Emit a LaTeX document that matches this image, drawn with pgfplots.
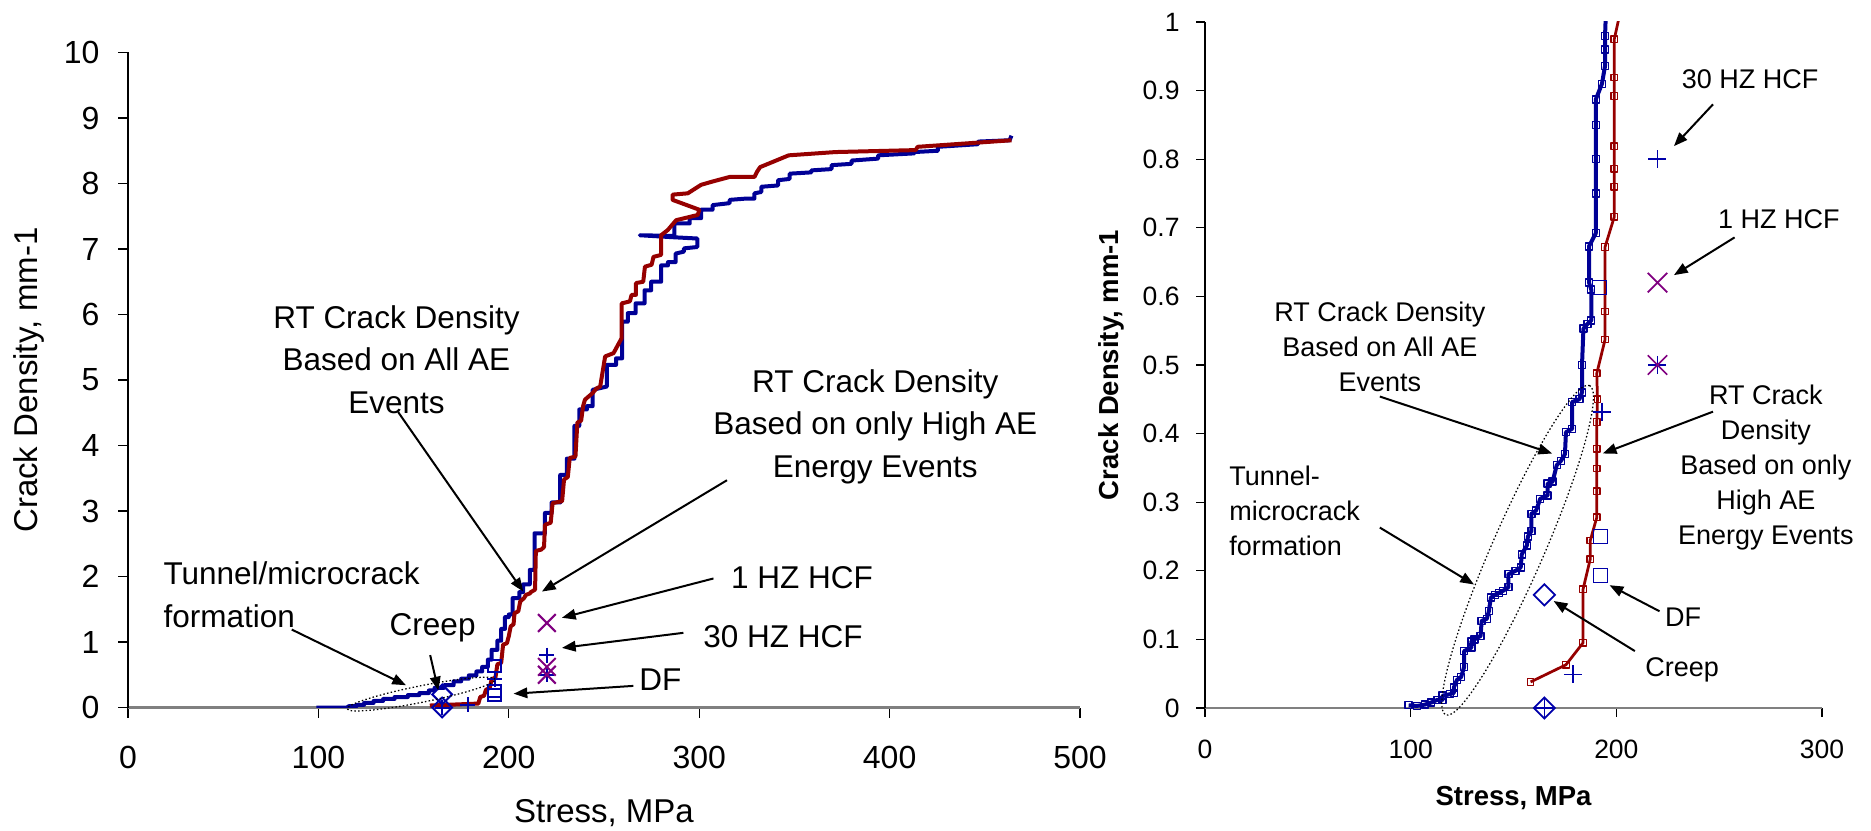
\documentclass[border=0pt]{standalone}
\usepackage{fontspec}
\setmainfont{Liberation Sans}
\usepackage{pgfplots}
\pgfplotsset{compat=1.18}
\usetikzlibrary{arrows.meta}
\definecolor{cblue}{RGB}{0,0,150}
\definecolor{cred}{RGB}{150,0,0}
\definecolor{cpurp}{RGB}{128,0,128}
\definecolor{cmark}{RGB}{0,0,170}
\definecolor{cgray}{RGB}{128,128,128}
\tikzset{ann/.style={-{Triangle[length=5.5pt,width=4.2pt]}, line width=0.8pt, black},
         dotell/.style={line width=0.5pt, dash pattern=on 0.6pt off 0.9pt}}
\begin{document}
\begin{tikzpicture}
% ---------------- LEFT ----------------
\begin{axis}[
  at={(51.2pt,49pt)}, anchor=south west, scale only axis,
  width=380.8pt, height=262pt,
  xmin=0, xmax=500, ymin=0, ymax=10,
  axis x line*=bottom, axis y line*=left,
  x axis line style={cgray, line width=0.9pt},
  y axis line style={black, line width=0.5pt},
  xtick={0,100,200,300,400,500}, ytick={0,1,2,3,4,5,6,7,8,9,10},
  tick align=outside, major tick length=4pt,
  every tick/.style={black, line width=0.5pt},
  /pgf/number format/assume math mode=true,
  ticklabel style={font=\fontsize{12.8}{14}\selectfont, inner sep=0pt},
  xticklabel style={anchor=north}, xticklabel shift=11.2pt,
  yticklabel style={anchor=east}, yticklabel shift=7.2pt,
  xlabel={Stress, MPa}, ylabel={Crack Density, mm-1},
  label style={font=\fontsize{13.2}{15}\selectfont},
  xlabel style={at={(axis description cs:0.5,-0.161)}, anchor=center},
  ylabel style={at={(axis description cs:-0.104,0.5)}, anchor=center},
  clip mode=individual,
]
\addplot[cblue, line width=1.6pt, line join=round] coordinates {
(99,0) (115,0) (116,0.02) (120,0.02) (120,0.04) (124,0.04) (124,0.07) (129,0.07) (129,0.1) (134,0.1)
(134,0.13) (140,0.13) (140,0.16) (147,0.16) (147,0.19) (153,0.19) (153,0.22) (158,0.22) (158,0.26)
(161,0.26) (161,0.3) (166,0.3) (166,0.34) (171,0.34) (171,0.4) (175,0.4) (175,0.44) (179,0.44)
(179,0.49) (183,0.49) (183,0.55) (186,0.55) (186,0.62) (189,0.62) (189,0.73) (191,0.73) (191,0.88)
(194,0.88) (194,1.02) (196,1.02) (196,1.2) (198,1.2) (198,1.38) (200,1.38) (200,1.42) (202,1.42)
(202,1.67) (205.5,1.67) (205.5,1.76) (207.5,1.76) (207.5,1.88) (211,1.88) (211,2.1) (213.5,2.1)
(213.5,2.66) (219,2.66) (219,2.97) (222.5,2.97) (222.5,3.13) (227,3.13) (227,3.55) (230.5,3.55)
(230.5,3.8) (234.5,3.8) (234.5,4.3) (237,4.3) (237,4.55) (241,4.55) (241,4.6) (244,4.6) (244,4.85)
(251.5,4.9) (251.5,5.23) (256.3,5.23) (256.3,5.33) (259.5,5.33) (259.5,5.89) (262.5,5.89)
(262.5,6.02) (266.6,6.02) (266.6,6.17) (271.3,6.17) (271.3,6.37) (274.8,6.37) (274.8,6.5) (280,6.5)
(280,6.75) (283.6,6.75) (283.6,6.8) (287.6,6.8) (287.6,6.93) (292,6.96) (292,7.01) (299,7.03)
(299,7.16) (286,7.18) (268.8,7.21) (286,7.2) (287,7.2) (287,7.39) (295,7.39) (295,7.47) (301,7.47)
(301,7.6) (307,7.6) (307,7.67) (316,7.7) (316,7.75) (324.7,7.77) (329,7.77) (329,7.85) (332.6,7.87)
(332.6,7.95) (341.4,7.97) (341.4,8.05) (347.5,8.07) (347.5,8.15) (358.9,8.17) (358.9,8.2)
(369.5,8.22) (369.5,8.28) (380,8.3) (380,8.35) (394,8.38) (394,8.43) (413,8.46) (413,8.48)
(425.4,8.5) (425.4,8.56) (446.5,8.6) (446.5,8.64) (463,8.66) (464,8.73)
};
\addplot[cred, line width=1.6pt, line join=round] coordinates {
(158.5,0.03) (184,0.06) (185,0.16) (187,0.18) (188,0.27) (190,0.3) (191,0.43) (193,0.46) (194,0.66)
(196,0.68) (197,0.96) (199,0.98) (200,1.09) (201,1.24) (202.5,1.27) (203,1.44) (205,1.47) (206,1.62)
(208,1.67) (209,1.72) (211,1.74) (211.5,1.76) (213.8,1.8) (214.2,2.39) (217,2.41) (218.5,2.45)
(219,2.79) (222,2.82) (223,3.12) (228,3.15) (229,3.48) (231,3.52) (232,3.81) (235,3.83) (236,4.35)
(238,4.38) (239,4.6) (240,4.7) (244,4.8) (246,4.87) (248,4.9) (250.6,5.36) (255,5.41) (259.3,5.64)
(259.3,6.17) (263.6,6.2) (264.5,6.3) (266.8,6.3) (266.8,6.48) (270.6,6.5) (271.5,6.73) (275,6.76)
(276,6.88) (280,6.91) (280,7.21) (283.5,7.29) (287.9,7.44) (299.3,7.52) (300,7.6) (286,7.75)
(286,7.83) (294,7.85) (301,7.98) (307,8.03) (316,8.1) (329,8.1) (330.4,8.18) (332,8.25) (347,8.43)
(371.6,8.48) (413.7,8.51) (414.7,8.56) (464,8.66)
};
% markers
\addplot[only marks, cmark, mark=square, mark size=2.8pt, mark options={rotate=45, line width=0.8pt}] coordinates {(165,0.2) (165,0)};
\addplot[only marks, cmark, mark=+, mark size=3pt, mark options={line width=0.8pt}] coordinates {(165,0) (178.5,0.04) (192.5,0.43) (220,0.8) (220,0.5)};
\addplot[only marks, cmark, mark=square, mark size=2.5pt, mark options={line width=0.8pt}] coordinates {(192.5,0.63) (192.5,0.25) (192.5,0.19)};
\addplot[only marks, cpurp, mark=x, mark size=5pt, mark options={line width=0.8pt}] coordinates {(220,1.29) (220,0.62) (220,0.5)};
% ellipse
\draw[dotell, rotate around={11.3:(axis cs:154,0.205)}] (axis cs:154,0.205) ellipse [x radius=30.2pt, y radius=3.3pt];
% annotations
\begin{scope}[every node/.style={font=\fontsize{12.6}{17}\selectfont, align=center, inner sep=0pt}]
\node at (axis cs:141,5.31) {RT Crack Density\\Based on All AE\\Events};
\node at (axis cs:392.5,4.29) {RT Crack Density\\Based on only High AE\\Energy Events};
\node at (axis cs:354,1.98) {1 HZ HCF};
\node at (axis cs:344,1.08) {30 HZ HCF};
\node at (axis cs:279.6,0.42) {DF};
\node at (axis cs:160,1.21) {Creep};
\node[anchor=west, align=left] at (axis cs:18.4,1.72) {Tunnel/microcrack\\formation};
\end{scope}
\draw[ann] (axis cs:141.9,4.51) -- (axis cs:207.6,1.77);
\draw[ann] (axis cs:314.6,3.47) -- (axis cs:217.4,1.77);
\draw[ann] (axis cs:307.5,1.97) -- (axis cs:227.9,1.37);
\draw[ann] (axis cs:291.7,1.14) -- (axis cs:227.9,0.91);
\draw[ann] (axis cs:265.4,0.33) -- (axis cs:202.5,0.21);
\draw[ann] (axis cs:158.7,0.8) -- (axis cs:163,0.26);
\draw[ann] (axis cs:86,1.19) -- (axis cs:146,0.34);
\end{axis}
% ---------------- RIGHT ----------------
\begin{axis}[
  at={(482pt,48.8pt)}, anchor=south west, scale only axis,
  width=246.8pt, height=274.4pt,
  xmin=0, xmax=300, ymin=0, ymax=1,
  axis x line*=bottom, axis y line*=left,
  x axis line style={cgray, line width=0.9pt},
  y axis line style={black, line width=0.5pt},
  xtick={0,100,200,300},
  ytick={0,0.1,0.2,0.3,0.4,0.5,0.6,0.7,0.8,0.9,1},
  yticklabels={0,0.1,0.2,0.3,0.4,0.5,0.6,0.7,0.8,0.9,1},
  tick align=outside, major tick length=3.5pt,
  every tick/.style={black, line width=0.5pt},
  /pgf/number format/assume math mode=true,
  ticklabel style={font=\fontsize{10.6}{12}\selectfont, inner sep=0pt},
  xticklabel style={anchor=north}, xticklabel shift=9.2pt,
  yticklabel style={anchor=east}, yticklabel shift=6.5pt,
  xlabel={\bfseries Stress, MPa}, ylabel={\bfseries Crack Density, mm-1},
  label style={font=\fontsize{11}{13}\selectfont},
  xlabel style={at={(axis description cs:0.5,-0.131)}, anchor=center},
  ylabel style={at={(axis description cs:-0.151,0.5)}, anchor=center},
  clip mode=individual,
]
\addplot[cblue, line width=1.6pt, line join=round, mark=square, mark size=1.4pt, mark options={solid, fill=white, line width=0.55pt}] coordinates {
(99,0.004) (103,0.003) (107,0.005) (110,0.008) (113,0.012) (115.5,0.012) (115.5,0.018) (119,0.02)
(121,0.022) (121,0.03) (122.5,0.041) (124.5,0.045) (126,0.06) (126,0.083) (129.5,0.088) (129.5,0.097)
(131,0.1) (134,0.105) (134.5,0.127) (137,0.13) (138,0.141) (139,0.161) (141,0.165) (143,0.168)
(145,0.171) (147.5,0.176) (147.5,0.195) (151,0.2) (153.5,0.205) (154,0.224) (156.5,0.237) (157,0.25)
(158.7,0.258) (158.7,0.283) (161,0.288) (163,0.305) (166.6,0.31) (166.6,0.327) (169,0.33) (171,0.354)
(173,0.36) (175,0.37) (175.5,0.402) (178.5,0.407) (178.5,0.446) (182,0.45) (183.3,0.46) (183.3,0.5)
(184,0.553) (186,0.56) (187.8,0.565) (187.8,0.61) (186.7,0.62) (186.7,0.673) (190,0.692) (190,0.75)
(190,0.8) (190,0.85) (190,0.887) (193,0.91) (194.5,0.936) (194.5,0.96) (194.5,0.98) (195,1.02)
};
\addplot[cred, line width=1.1pt, line join=round, mark=square, mark size=1.3pt, mark options={solid, fill=white, line width=0.5pt}] coordinates {
(158.3,0.038) (175.5,0.063) (183.8,0.095) (183.8,0.173) (187.3,0.217) (187.3,0.244) (190.5,0.278)
(190.5,0.316) (190.5,0.349) (190.5,0.378) (190.5,0.417) (190.8,0.45) (190.5,0.488) (194.5,0.537)
(194.5,0.578) (194.5,0.672) (199,0.716) (199,0.76) (199,0.786) (199,0.819) (199,0.892) (199,0.919)
(199,0.975) (202.3,1.02)
};
\addplot[only marks, cmark, mark=square, mark size=3pt, mark options={rotate=45, line width=0.7pt}] coordinates {(165,0.165) (165,0)};
\addplot[only marks, cmark, mark=+, mark size=3.6pt, mark options={line width=0.7pt}] coordinates {(165,0) (178.8,0.049) (193,0.432) (220,0.8) (220,0.5)};
\addplot[only marks, cmark, mark=square, mark size=2.8pt, mark options={line width=0.7pt}] coordinates {(191.8,0.613) (192.3,0.25) (192.3,0.193)};
\addplot[only marks, cpurp, mark=x, mark size=5.5pt, mark options={line width=0.7pt}] coordinates {(220,0.62) (220,0.5)};
\draw[dotell, rotate around={66.4:(axis cs:152,0.23)}] (axis cs:152,0.23) ellipse [x radius=71.9pt, y radius=10.4pt];
\begin{scope}[every node/.style={font=\fontsize{10.8}{14}\selectfont, align=center, inner sep=0pt}]
\node at (axis cs:265,0.916) {30 HZ HCF};
\node at (axis cs:279,0.712) {1 HZ HCF};
\node at (axis cs:85,0.527) {RT Crack Density\\Based on All AE\\Events};
\node at (axis cs:272.7,0.351) {RT Crack\\Density\\Based on only\\High AE\\Energy Events};
\node[anchor=west, align=left] at (axis cs:11.6,0.288) {Tunnel-\\microcrack\\formation};
\node at (axis cs:232.5,0.132) {DF};
\node at (axis cs:232,0.056) {Creep};
\end{scope}
\draw[ann] (axis cs:247,0.88) -- (axis cs:228,0.819);
\draw[ann] (axis cs:257.5,0.686) -- (axis cs:228,0.631);
\draw[ann] (axis cs:85,0.454) -- (axis cs:168.8,0.371);
\draw[ann] (axis cs:247,0.432) -- (axis cs:193.4,0.371);
\draw[ann] (axis cs:85,0.263) -- (axis cs:130.8,0.18);
\draw[ann] (axis cs:221,0.141) -- (axis cs:196.7,0.179);
\draw[ann] (axis cs:209,0.083) -- (axis cs:169.5,0.156);
\end{axis}
\pgfresetboundingbox
\path[use as bounding box] (0,0) rectangle (748.4pt,332pt);
\end{tikzpicture}
\end{document}
